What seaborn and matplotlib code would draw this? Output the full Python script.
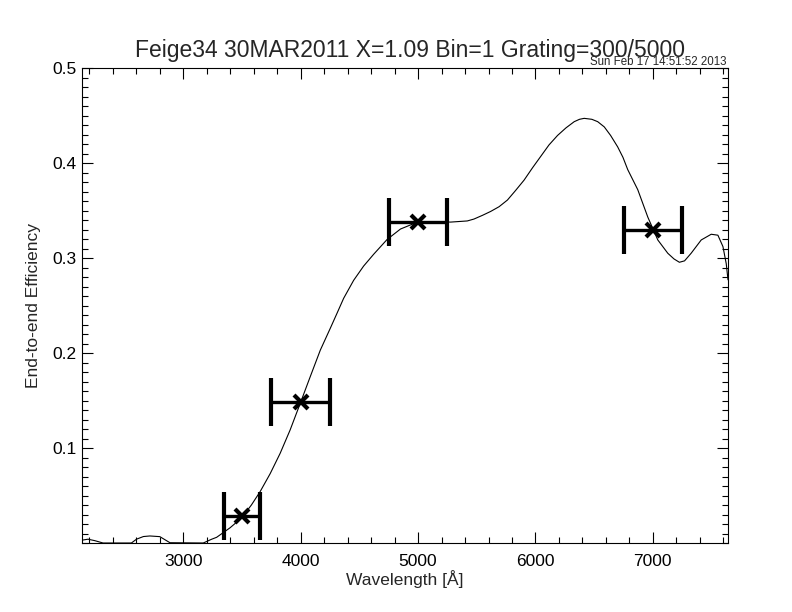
import numpy as np
import pandas as pd
import matplotlib
matplotlib.use("Agg")
import matplotlib.pyplot as plt
from matplotlib.ticker import MultipleLocator, FixedLocator, FormatStrFormatter
import seaborn as sns

wave = [2137, 2188, 2245, 2316, 2558, 2601, 2660, 2715, 2800, 2886, 3170,
        3242, 3284, 3341, 3398, 3455, 3512, 3580, 3654, 3740, 3825, 3910,
        3996, 4081, 4167, 4252, 4310, 4366, 4451, 4536, 4622, 4736, 4850,
        4963, 5060, 5160, 5277, 5419, 5476, 5550, 5618, 5690, 5761, 5830,
        5903, 5975, 6045, 6115, 6188, 6260, 6330, 6375, 6415, 6480, 6530,
        6586, 6640, 6700, 6745, 6786, 6871, 6957, 7042, 7127, 7180, 7226,
        7270, 7326, 7412, 7497, 7554, 7597, 7625, 7640]
eff = [0.003, 0.004, 0.0025, 0.0, 0.0, 0.004, 0.0068, 0.0074, 0.0067, 0.0003,
       0.0, 0.004, 0.006, 0.011, 0.016, 0.022, 0.029, 0.040, 0.054,
       0.073, 0.0944, 0.119, 0.147, 0.175, 0.203, 0.226, 0.242, 0.2576,
       0.2765, 0.2915, 0.304, 0.3195, 0.3305, 0.3362, 0.338, 0.3383, 0.3378,
       0.339, 0.341, 0.345, 0.349, 0.354, 0.361, 0.371, 0.382, 0.395, 0.407,
       0.419, 0.429, 0.437, 0.4435, 0.446, 0.447, 0.446, 0.4435, 0.438,
       0.429, 0.417, 0.406, 0.393, 0.372, 0.343, 0.319, 0.305, 0.299, 0.2955,
       0.297, 0.305, 0.319, 0.325, 0.324, 0.312, 0.294, 0.277]

# filter photometry points
pt_wave = [3500, 4000, 5000, 7000]
pt_eff = [0.028, 0.148, 0.338, 0.329]
pt_halfwidth = [150, 250, 250, 250]

title = "Feige34 30MAR2011 X=1.09 Bin=1 Grating=300/5000"
stamp = "Sun Feb 17 14:51:52 2013"

sns.set_style("ticks")
plt.rcParams["font.family"] = ["Liberation Sans", "DejaVu Sans"]

fig = plt.figure(figsize=(7.92, 6.12), dpi=100)
ax = fig.add_axes([82/792, 1-543/612, (728-82)/792, (543-68)/612])

df = pd.DataFrame({"wave": wave, "eff": eff})
sns.lineplot(data=df, x="wave", y="eff", ax=ax, color="black", lw=0.8)

ax.errorbar(pt_wave, pt_eff, xerr=pt_halfwidth, fmt="x", color="black",
            ms=10, mew=3, elinewidth=2.4, capsize=17, capthick=2.4)

ax.set_xlim(2137, 7640)
ax.set_ylim(0, 0.5)
ax.xaxis.set_major_locator(FixedLocator([3000, 4000, 5000, 6000, 7000]))
ax.xaxis.set_minor_locator(MultipleLocator(200))
ax.yaxis.set_major_locator(FixedLocator([0.1, 0.2, 0.3, 0.4, 0.5]))
ax.yaxis.set_minor_locator(MultipleLocator(0.01))
ax.yaxis.set_major_formatter(FormatStrFormatter("%.1f"))
ax.tick_params(which="both", direction="in", top=True, right=True,
               width=0.8, labelsize=12.5, colors="black")
ax.tick_params(which="major", length=8)
ax.tick_params(which="minor", length=4.5)
ax.tick_params(axis="x", which="major", pad=8)
ax.tick_params(axis="y", which="major", pad=4)
for s in ax.spines.values():
    s.set_linewidth(0.8)
    s.set_color("black")

ax.set_xlabel("Wavelength [Å]", fontsize=12.5, labelpad=1)
ax.set_ylabel("End-to-end Efficiency", fontsize=12.5, labelpad=8)
fig.text(410/792, 1-50/612, title, ha="center", va="center", fontsize=16.5)
fig.text(727/792, 1-62/612, stamp, ha="right", va="center", fontsize=8.3)

fig.savefig("out.png", dpi=100, facecolor="white")
